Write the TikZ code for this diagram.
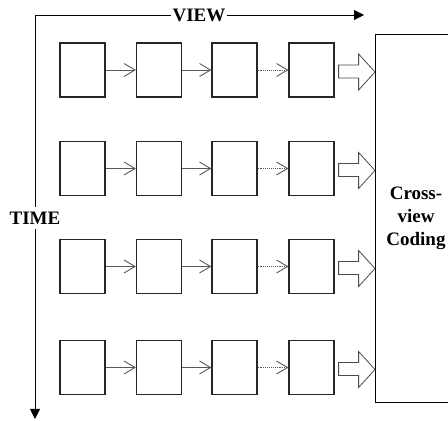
\documentclass[tikz,border=0pt]{standalone}
\usepackage{fontspec}
\setmainfont{Liberation Serif}
\usetikzlibrary{arrows.meta,calc}

\tikzset{
  frame/.style={draw=black!85, line width=1.2pt, minimum width=45pt, minimum height=54pt, inner sep=0pt},
  link/.style={draw=black!65, line width=0.9pt, -{Straight Barb[length=11pt,width=13pt,line width=0.9pt]}},
  dotlink/.style={link, densely dotted},
  axis/.style={draw=black, line width=0.8pt, -{Triangle[length=10pt,width=10pt]}},
  label/.style={fill=white, inner xsep=1.5pt, inner ysep=5pt, font=\fontsize{19}{23}\selectfont\bfseries},
  blockarrow/.style={draw=black!70, line width=0.8pt, fill=white},
}

\begin{document}
\begin{tikzpicture}[x=1pt, y=1pt]
  \useasboundingbox (0,0) rectangle (448,421);

  % axes
  \coordinate (o) at (35,421-15);
  \coordinate (vend) at (364,421-15);
  \coordinate (tend) at (35,421-419);
  \draw[axis] (o) -- (vend);
  \draw[axis] (o) -- (tend);
  \node[label] (view) at (199,421-15) {VIEW};
  \node[label] (time) at (35,421-218) {TIME};

  % coding block
  \node[draw=black, line width=1pt, anchor=north west, minimum width=81pt, minimum height=368pt,
        align=center, font=\fontsize{19}{23}\selectfont\bfseries, inner sep=0pt] (cv) at (375,421-34)
        {Cross-\\view\\Coding};

  % rows of frames
  \foreach \r/\yy in {1/70,2/168.5,3/266.5,4/367.5}{
    \node[frame] (f\r1) at (82.5,421-\yy) {};
    \node[frame] (f\r2) at (159,421-\yy) {};
    \node[frame] (f\r3) at (234.5,421-\yy) {};
    \node[frame] (f\r4) at (311.5,421-\yy) {};
    \draw[link] (f\r1) -- (f\r2);
    \draw[link] (f\r2) -- (f\r3);
    \draw[dotlink] (f\r3) -- (f\r4);
    % hollow block arrow into the coding block
    \coordinate (tip\r) at ($(cv.west |- f\r4.east)+(0,-2)$);
    \draw[blockarrow]
      ($(f\r4.east)+(4,5)$) -- ($(f\r4.east)+(24,5)$) -- ($(f\r4.east)+(24,16)$)
      -- (tip\r)
      -- ($(f\r4.east)+(24,-20)$) -- ($(f\r4.east)+(24,-8)$) -- ($(f\r4.east)+(4,-8)$) -- cycle;
  }
\end{tikzpicture}
\end{document}
